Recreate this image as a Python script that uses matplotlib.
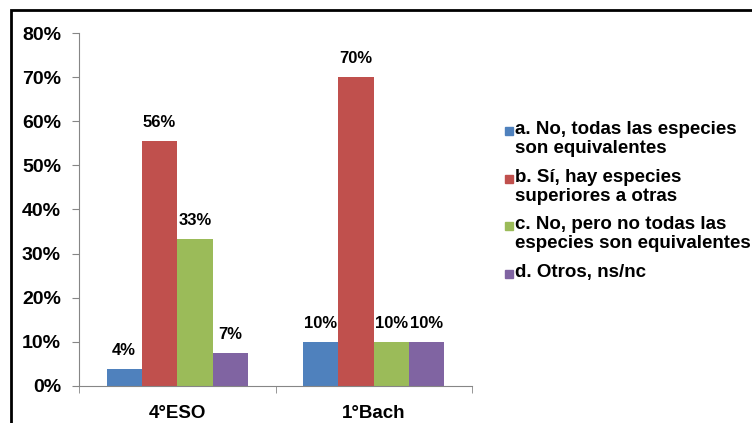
import matplotlib
matplotlib.use("Agg")
import matplotlib.pyplot as plt
from matplotlib.patches import Rectangle
import numpy as np

plt.rcParams["font.family"] = ["Liberation Sans", "DejaVu Sans"]
plt.rcParams["font.weight"] = "bold"

categories = ["4°ESO", "1°Bach"]
series_names = ["a. No, todas las especies\nson equivalentes",
                "b. Sí, hay especies\nsuperiores a otras",
                "c. No, pero no todas las\nespecies son equivalentes",
                "d. Otros, ns/nc"]
# values per series, one per category
serie_a = [0.037, 0.10]
serie_b = [0.556, 0.70]
serie_c = [0.333, 0.10]
serie_d = [0.074, 0.10]
bar_labels_a = ["4%", "10%"]
bar_labels_b = ["56%", "70%"]
bar_labels_c = ["33%", "10%"]
bar_labels_d = ["7%", "10%"]
colors = ["#4F81BD", "#C0504D", "#9BBB59", "#8064A2"]

all_values = [serie_a, serie_b, serie_c, serie_d]
all_labels = [bar_labels_a, bar_labels_b, bar_labels_c, bar_labels_d]

fig = plt.figure(figsize=(7.52, 4.23), dpi=100)
ax = fig.add_axes([79 / 752, 1 - 385.7 / 423, 393 / 752, (385.7 - 33.3) / 423])

x = np.arange(len(categories))
w = 0.18
for i, (vals, labs, col) in enumerate(zip(all_values, all_labels, colors)):
    bars = ax.bar(x + (i - 1.5) * w, vals, width=w, color=col, zorder=2)
    ax.bar_label(bars, labs, padding=8, fontsize=12, fontweight="bold")

ax.set_xlim(-0.5, 1.5)
ax.set_ylim(0, 0.8)
ax.set_yticks(np.arange(0, 0.81, 0.1))
ax.set_yticklabels([f"{int(round(v * 100))}%" for v in np.arange(0, 0.81, 0.1)])
ax.set_xticks(x)
ax.set_xticklabels(categories)
ax.set_xticks([-0.5, 0.5, 1.5], minor=True)
ax.tick_params(axis="x", which="major", length=0, pad=14, labelsize=13.5)
ax.tick_params(axis="x", which="minor", length=5, color="#868686")
ax.tick_params(axis="y", length=5, color="#868686", pad=8, labelsize=14)

for s in ["top", "right"]:
    ax.spines[s].set_visible(False)
for s in ["left", "bottom"]:
    ax.spines[s].set_color("#868686")

# legend drawn by hand so the square sits on the first line of each entry
leg_tops = [121, 169, 216, 264]
for name, col, top in zip(series_names, colors, leg_tops):
    fig.patches.append(Rectangle((505 / 752, 1 - (top + 14) / 423), 8 / 752, 8 / 423,
                                 transform=fig.transFigure, color=col))
    fig.text(515 / 752, 1 - top / 423, name, fontsize=13.5, fontweight="bold",
             va="top", ha="left", linespacing=1.12)

# outer frame (right and bottom edges cut off in the original)
fig.patches.append(Rectangle((10.5 / 752, -0.1), 1.2, 1 - 10 / 423 + 0.1,
                             transform=fig.transFigure, fill=False,
                             edgecolor="black", lw=2))

fig.savefig("out.png", dpi=100)
